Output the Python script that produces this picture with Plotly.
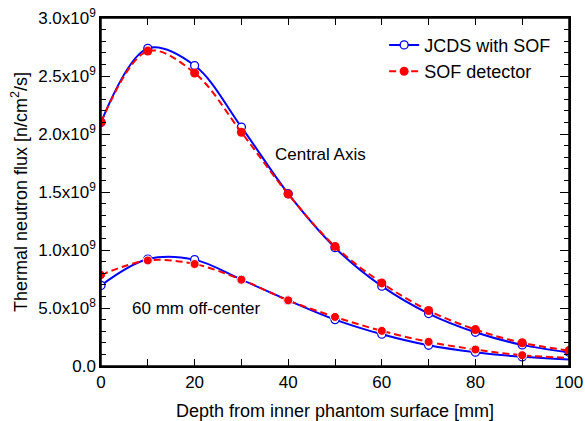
import plotly.graph_objects as go

depth = [0, 10, 20, 30, 40, 50, 60, 70, 80, 90, 100]

# Central axis
jcds_central = [2.10e9, 2.738e9, 2.59e9, 2.06e9, 1.485e9, 1.02e9, 0.688e9, 0.452e9, 0.291e9, 0.182e9, 0.118e9]
sof_central = [2.10e9, 2.715e9, 2.526e9, 2.015e9, 1.482e9, 1.031e9, 0.716e9, 0.478e9, 0.314e9, 0.200e9, 0.133e9]

# 60 mm off-center
jcds_off = [0.695e9, 0.922e9, 0.917e9, 0.744e9, 0.566e9, 0.400e9, 0.274e9, 0.179e9, 0.119e9, 0.079e9, 0.056e9]
sof_off = [0.785e9, 0.910e9, 0.879e9, 0.744e9, 0.566e9, 0.423e9, 0.303e9, 0.208e9, 0.142e9, 0.093e9, 0.070e9]

x_tickvals = [0, 20, 40, 60, 80, 100]
y_tickvals = [0, 0.5e9, 1.0e9, 1.5e9, 2.0e9, 2.5e9, 3.0e9]
y_ticktext = ["0.0", "5.0x10<sup>8</sup>", "1.0x10<sup>9</sup>", "1.5x10<sup>9</sup>",
              "2.0x10<sup>9</sup>", "2.5x10<sup>9</sup>", "3.0x10<sup>9</sup>"]

BLUE = "#0000ff"
RED = "#ff0000"
FONT = "Liberation Sans, Arial, sans-serif"

fig = go.Figure()

n = len(depth)
blue_off_sizes = [8] * (n - 1) + [0]
red_off_sizes = [9] * (n - 1) + [0]

# JCDS with SOF (blue, open circles)
fig.add_trace(go.Scatter(
    x=depth, y=jcds_central, mode="lines+markers", name="JCDS with SOF",
    line=dict(color=BLUE, width=2, shape="spline"),
    marker=dict(symbol="circle", size=8, color="white", opacity=1,
                line=dict(color=BLUE, width=1.3)),
))
fig.add_trace(go.Scatter(
    x=depth, y=jcds_off, mode="lines+markers", showlegend=False,
    line=dict(color=BLUE, width=2, shape="spline"),
    marker=dict(symbol="circle", size=blue_off_sizes, color="white", opacity=1,
                line=dict(color=BLUE, width=[1.3] * (n - 1) + [0])),
))
# SOF detector (red, filled circles, dashed)
fig.add_trace(go.Scatter(
    x=depth, y=sof_central, mode="lines+markers", name="SOF detector",
    line=dict(color=RED, width=2, shape="spline", dash="7px,4px"),
    marker=dict(symbol="circle", size=9, color=RED, opacity=1),
))
fig.add_trace(go.Scatter(
    x=depth, y=sof_off, mode="lines+markers", showlegend=False,
    line=dict(color=RED, width=2, shape="spline", dash="7px,4px"),
    marker=dict(symbol="circle", size=red_off_sizes, color=RED, opacity=1),
))
# empty trace that activates the top (mirrored) x axis
fig.add_trace(go.Scatter(x=[], y=[], xaxis="x2", showlegend=False, hoverinfo="skip"))

fig.add_annotation(x=47.0, y=1.82e9, text="Central Axis", showarrow=False,
                   font=dict(family=FONT, size=17, color="black"))
fig.add_annotation(x=20.4, y=0.495e9, text="60 mm off-center", showarrow=False,
                   font=dict(family=FONT, size=17, color="black"))

# plot frame
fig.add_shape(type="rect", xref="paper", yref="paper", x0=0, x1=1, y0=0, y1=1,
              line=dict(color="black", width=1.5), layer="above")

fig.update_layout(
    width=585, height=421,
    margin=dict(l=101, r=16, t=18, b=55),
    paper_bgcolor="white", plot_bgcolor="white",
    font=dict(family=FONT, size=17, color="black"),
    legend=dict(x=0.605, y=0.975, xanchor="left", yanchor="top",
                bgcolor="rgba(0,0,0,0)", font=dict(family=FONT, size=18),
                tracegroupgap=0),
    xaxis=dict(
        range=[0, 100], tickvals=x_tickvals,
        ticks="inside", ticklen=7, tickwidth=1, tickcolor="black",
        minor=dict(dtick=10, ticks="inside", ticklen=7, tickcolor="black"),
        showline=True, linecolor="black", linewidth=1.5, mirror="ticks",
        showgrid=False, zeroline=False, automargin=False,
        title=dict(text="Depth from inner phantom surface [mm]", font=dict(size=18)),
        tickfont=dict(size=17),
    ),
    xaxis2=dict(
        overlaying="x", side="top", range=[0, 100], tickvals=x_tickvals,
        ticks="inside", ticklen=7, tickwidth=1, tickcolor="black",
        minor=dict(dtick=10, ticks="inside", ticklen=7, tickcolor="black"),
        showline=True, linecolor="black", linewidth=1.5,
        showticklabels=False, showgrid=False, zeroline=False, automargin=False,
    ),
    yaxis=dict(
        range=[0, 3.0e9], tickvals=y_tickvals, ticktext=y_ticktext,
        ticks="inside", ticklen=9, tickwidth=1, tickcolor="black",
        minor=dict(dtick=1e8, ticks="inside", ticklen=5, tickcolor="black"),
        showline=True, linecolor="black", linewidth=1.5, mirror="ticks",
        showgrid=False, zeroline=False, automargin=False,
        ticklabeloverflow="allow",
        title=dict(text="Thermal neutron flux [n/cm<sup>2</sup>/s]", font=dict(size=18),
                   standoff=6),
        tickfont=dict(size=17),
    ),
)

# remove the default page margin so the figure sits at the window's corner
fig.write_html("out.html", config={"displayModeBar": False},
               post_script="document.body.style.margin='0';")
